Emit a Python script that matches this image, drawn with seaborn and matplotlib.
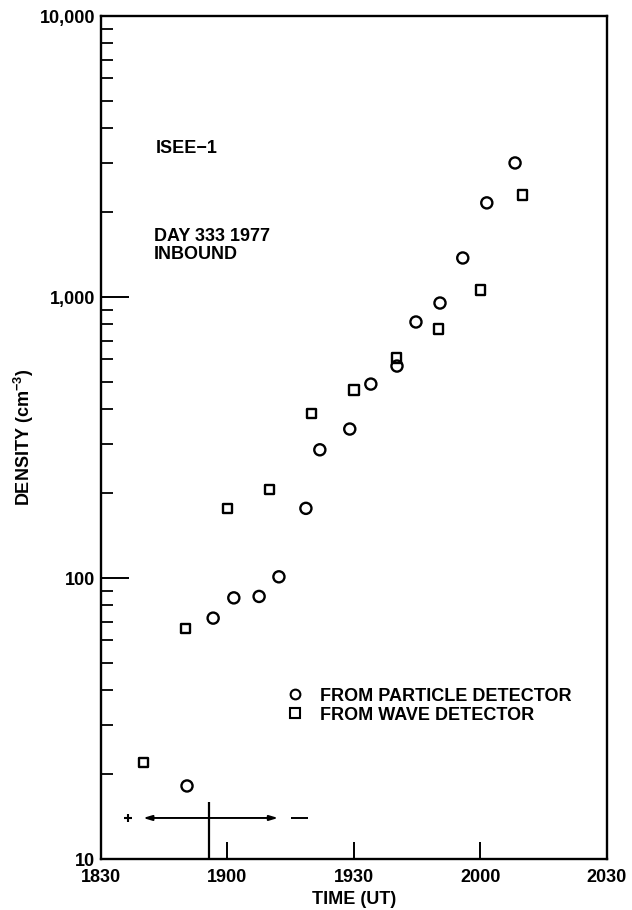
import numpy as np
import pandas as pd
import matplotlib
matplotlib.use("Agg")
import matplotlib.pyplot as plt
import seaborn as sns
from matplotlib.lines import Line2D
from matplotlib.ticker import FixedLocator, FixedFormatter, LogLocator, NullFormatter, NullLocator

# ---- data (time in minutes after 18:30 UT, density in cm^-3) ----
particle_minutes = [20.4, 26.6, 31.5, 37.5, 42.2, 48.6, 51.9, 59.0, 64.0, 70.2, 74.7, 80.4, 85.8, 91.5, 98.2]
particle_density = [18.2, 72, 85, 86, 101, 177, 286, 339, 490, 568, 815, 952, 1377, 2163, 3000]
wave_minutes = [10, 20, 30, 40, 50, 60, 70, 80, 90, 100]
wave_density = [22.1, 66, 177, 207, 384, 467, 607, 769, 1059, 2307]

xtick_minutes = [0, 30, 60, 90, 120]
xtick_labels = ["1830", "1900", "1930", "2000", "2030"]
ytick_values = [10, 100, 1000, 10000]
ytick_labels = ["10", "100", "1,000", "10,000"]
series_labels = ["FROM PARTICLE DETECTOR", "FROM WAVE DETECTOR"]

# interval annotation near the bottom
interval_start, interval_end, interval_level = 10, 42, 14
interval_mark, interval_mark_top = 25.7, 16
plus_minute = 6.4
dash_start, dash_end = 45, 49

sns.set_style("ticks")
plt.rcParams["font.family"] = ["Liberation Sans", "DejaVu Sans"]
plt.rcParams["font.weight"] = "bold"
plt.rcParams["mathtext.default"] = "regular"
for key in ["text.color", "axes.labelcolor", "xtick.color", "ytick.color", "axes.edgecolor"]:
    plt.rcParams[key] = "black"

FS = 13

fig = plt.figure(figsize=(6.32, 9.10), dpi=100)
ax = fig.add_axes([0.1598, 0.056, 0.8006, 0.9264])

df_p = pd.DataFrame({"t": particle_minutes, "n": particle_density})
df_w = pd.DataFrame({"t": wave_minutes, "n": wave_density})

ax.set_yscale("log")
sns.scatterplot(data=df_p, x="t", y="n", marker="o", s=64, facecolor="none",
                edgecolor="black", linewidth=1.7, ax=ax, zorder=3)
sns.scatterplot(data=df_w, x="t", y="n", marker="s", s=44, facecolor="none",
                edgecolor="black", linewidth=1.7, ax=ax, zorder=3)

ax.set_xlim(0, 120)
ax.set_ylim(10, 10000)

ax.xaxis.set_major_locator(FixedLocator(xtick_minutes))
ax.xaxis.set_major_formatter(FixedFormatter(xtick_labels))
ax.xaxis.set_minor_locator(NullLocator())
ax.yaxis.set_major_locator(FixedLocator(ytick_values))
ax.yaxis.set_major_formatter(FixedFormatter(ytick_labels))
ax.yaxis.set_minor_locator(LogLocator(base=10, subs=np.arange(2, 10)))
ax.yaxis.set_minor_formatter(NullFormatter())

ax.tick_params(axis="x", which="major", direction="in", length=12, width=1.4,
               top=False, bottom=True, pad=7, labelsize=FS, colors="black")
ax.tick_params(axis="y", which="major", direction="in", length=20, width=1.4,
               left=True, right=False, pad=4, labelsize=FS, colors="black")
ax.tick_params(axis="y", which="minor", direction="in", length=8.5, width=1.3,
               left=True, right=False, colors="black")
for lab in ax.get_xticklabels() + ax.get_yticklabels():
    lab.set_fontweight("bold")

for sp in ax.spines.values():
    sp.set_linewidth(1.7)
    sp.set_color("black")

ax.set_xlabel("TIME (UT)", fontsize=FS, fontweight="bold", labelpad=4, color="black")
ax.set_ylabel("DENSITY (cm$^{-3}$)", fontsize=FS, fontweight="bold", labelpad=3, color="black")

# text annotations
ax.text(0.109, 0.843, "ISEE\u22121", transform=ax.transAxes, fontsize=FS,
        fontweight="bold", ha="left", va="center", color="black")
ax.text(0.105, 0.728, "DAY 333 1977\nINBOUND", transform=ax.transAxes, fontsize=FS,
        fontweight="bold", ha="left", va="center", linespacing=1.05, color="black")

# interval marker
ax.annotate("", xy=(interval_start, interval_level), xytext=(interval_end, interval_level),
            arrowprops=dict(arrowstyle="<|-|>,head_length=0.5,head_width=0.15",
                            color="black", lw=1.4, shrinkA=0, shrinkB=0))
ax.vlines(interval_mark, 10, interval_mark_top, color="black", lw=1.6)
ax.plot([plus_minute], [interval_level], marker="+", ms=6, mew=1.5, color="black", ls="none")
ax.hlines(interval_level, dash_start, dash_end, color="black", lw=1.4)

# legend
handles = [
    Line2D([], [], marker="o", ls="none", mfc="none", mec="black", mew=1.5, ms=7),
    Line2D([], [], marker="s", ls="none", mfc="none", mec="black", mew=1.5, ms=6.5),
]
leg = ax.legend(handles, series_labels, loc="center left", bbox_to_anchor=(0.365, 0.182),
                frameon=False, handlelength=1.0, handletextpad=0.9, labelspacing=0.1,
                borderpad=0, borderaxespad=0, prop={"size": FS, "weight": "bold"})
for t in leg.get_texts():
    t.set_color("black")

fig.savefig("out.png", dpi=100)
